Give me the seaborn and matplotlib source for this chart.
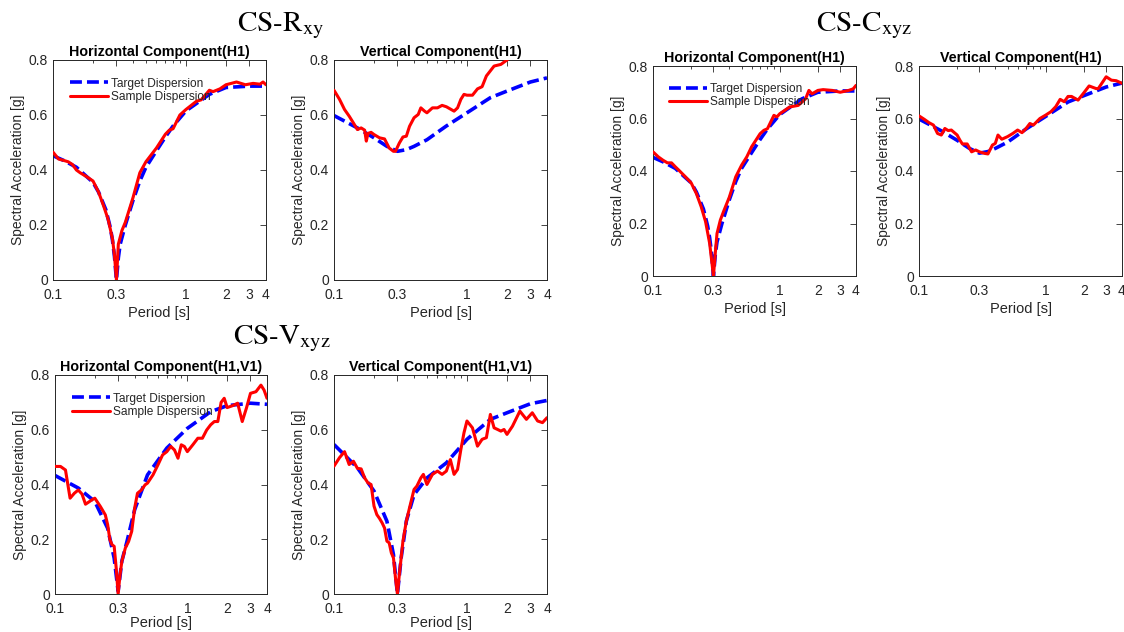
import numpy as np
import pandas as pd
import matplotlib
matplotlib.use("Agg")
import matplotlib.pyplot as plt
import seaborn as sns

# ---------------- data ----------------
# Targets (same target for horizontal H1 panels, and for vertical H1 panels)
t_target = [0.1, 0.12, 0.15, 0.18, 0.2, 0.22, 0.25, 0.27, 0.28, 0.29, 0.3, 0.31, 0.32, 0.35, 0.4,
            0.45, 0.5, 0.6, 0.7, 0.8, 1.0, 1.5, 2.0, 3.0, 4.0]
h_target = [0.452, 0.435, 0.41, 0.375, 0.355, 0.32, 0.255, 0.19, 0.145, 0.085, 0.0, 0.08, 0.13, 0.20, 0.29,
            0.36, 0.41, 0.47, 0.52, 0.56, 0.615, 0.675, 0.70, 0.705, 0.705]

t_vtarget = [0.1, 0.15, 0.2, 0.25, 0.3, 0.35, 0.4, 0.5, 0.7, 1.0, 1.5, 2.0, 3.0, 4.0]
v_target = [0.598, 0.553, 0.517, 0.486, 0.468, 0.474, 0.486, 0.51, 0.56, 0.608, 0.663, 0.687, 0.72, 0.735]

# CS-Rxy horizontal sample
t_rh = [0.1, 0.11, 0.12, 0.13, 0.14, 0.15, 0.16, 0.18, 0.2, 0.22, 0.24, 0.26, 0.28, 0.29, 0.3,
        0.31, 0.33, 0.35, 0.4, 0.45, 0.5, 0.6, 0.7, 0.75, 0.8, 0.9, 1.0, 1.2, 1.3, 1.5, 1.6,
        1.8, 2.0, 2.4, 2.8, 3.2, 3.6, 3.8, 4.0]
rh_sample = [0.465, 0.44, 0.435, 0.43, 0.42, 0.40, 0.39, 0.375, 0.36, 0.32, 0.27, 0.22, 0.15, 0.09, 0.0,
             0.13, 0.18, 0.21, 0.30, 0.39, 0.43, 0.48, 0.53, 0.545, 0.55, 0.60, 0.62, 0.65, 0.655, 0.69, 0.685,
             0.695, 0.71, 0.72, 0.71, 0.715, 0.712, 0.72, 0.71]

# CS-Rxy vertical sample
t_rv = [0.1, 0.11, 0.12, 0.13, 0.14, 0.15, 0.16, 0.17, 0.175, 0.18, 0.19, 0.2, 0.22, 0.24, 0.26,
        0.28, 0.29, 0.31, 0.33, 0.35, 0.37, 0.4, 0.43, 0.45, 0.48, 0.5, 0.55, 0.6, 0.65, 0.7,
        0.8, 0.85, 0.9, 0.95, 1.0, 1.1, 1.2, 1.3, 1.4, 1.6, 1.8, 2.0, 2.2, 2.5, 3.0, 4.0]
rv_sample = [0.69, 0.657, 0.62, 0.596, 0.571, 0.547, 0.553, 0.545, 0.505, 0.533, 0.537, 0.529, 0.517, 0.513, 0.48,
             0.468, 0.468, 0.498, 0.52, 0.523, 0.559, 0.59, 0.602, 0.626, 0.614, 0.608, 0.626, 0.626, 0.635, 0.63,
             0.614, 0.626, 0.657, 0.675, 0.672, 0.672, 0.695, 0.703, 0.742, 0.778, 0.784, 0.80, 0.82, 0.83, 0.85, 0.87]

# CS-Cxyz horizontal sample
t_ch = [0.1, 0.11, 0.12, 0.13, 0.14, 0.15, 0.16, 0.18, 0.2, 0.22, 0.24, 0.26, 0.28, 0.3, 0.31,
        0.32, 0.34, 0.36, 0.4, 0.45, 0.5, 0.55, 0.6, 0.7, 0.75, 0.8, 0.9, 0.95, 1.0, 1.2, 1.4,
        1.6, 1.7, 1.8, 2.0, 2.2, 2.6, 3.0, 3.5, 3.8, 4.0]
ch_sample = [0.473, 0.454, 0.441, 0.431, 0.431, 0.416, 0.403, 0.378, 0.355, 0.314, 0.264, 0.207, 0.124, 0.0, 0.086,
             0.162, 0.213, 0.245, 0.30, 0.378, 0.422, 0.454, 0.492, 0.542, 0.555, 0.561, 0.612, 0.606, 0.618, 0.644, 0.65,
             0.675, 0.707, 0.694, 0.707, 0.71, 0.707, 0.70, 0.707, 0.713, 0.726]

# CS-Cxyz vertical sample
t_cv = [0.1, 0.11, 0.12, 0.13, 0.14, 0.15, 0.16, 0.17, 0.18, 0.2, 0.21, 0.22, 0.24, 0.26, 0.28,
        0.3, 0.33, 0.35, 0.38, 0.4, 0.42, 0.45, 0.5, 0.55, 0.6, 0.65, 0.7, 0.75, 0.8, 0.9, 1.0,
        1.1, 1.2, 1.3, 1.4, 1.5, 1.6, 1.8, 2.0, 2.2, 2.5, 2.6, 3.0, 3.3, 3.6, 4.0]
cv_sample = [0.61, 0.597, 0.584, 0.575, 0.543, 0.537, 0.562, 0.554, 0.556, 0.537, 0.518, 0.503, 0.503, 0.473, 0.48,
             0.473, 0.467, 0.465, 0.499, 0.505, 0.537, 0.521, 0.531, 0.543, 0.556, 0.546, 0.562, 0.581, 0.575, 0.60, 0.613,
             0.626, 0.645, 0.673, 0.664, 0.684, 0.684, 0.67, 0.698, 0.724, 0.714, 0.714, 0.759, 0.746, 0.744, 0.734]

# CS-Vxyz horizontal target and sample
t_vh_target = [0.1, 0.15, 0.2, 0.25, 0.28, 0.3, 0.32, 0.35, 0.4, 0.5, 0.7, 1.0, 1.5, 2.0, 3.0, 4.0]
vh_target = [0.433, 0.387, 0.338, 0.24, 0.131, 0.01, 0.12, 0.192, 0.308, 0.435, 0.533, 0.605, 0.666, 0.688, 0.697, 0.693]

t_vh = [0.1, 0.11, 0.12, 0.13, 0.14, 0.15, 0.16, 0.17, 0.18, 0.19, 0.2, 0.22, 0.24, 0.25, 0.26,
        0.27, 0.28, 0.29, 0.3, 0.31, 0.32, 0.34, 0.36, 0.38, 0.4, 0.42, 0.45, 0.48, 0.5, 0.55,
        0.6, 0.65, 0.7, 0.75, 0.8, 0.85, 0.9, 0.95, 1.0, 1.1, 1.2, 1.3, 1.4, 1.5, 1.6, 1.7,
        1.8, 1.9, 2.0, 2.2, 2.4, 2.6, 2.8, 3.0, 3.3, 3.6, 3.8, 4.0]
vh_sample = [0.466, 0.466, 0.453, 0.35, 0.368, 0.38, 0.365, 0.328, 0.336, 0.344, 0.35, 0.32, 0.289, 0.253, 0.198,
             0.18, 0.174, 0.095, 0.0, 0.07, 0.119, 0.168, 0.192, 0.229, 0.314, 0.368, 0.38, 0.399, 0.405, 0.435,
             0.472, 0.508, 0.52, 0.539, 0.526, 0.496, 0.545, 0.539, 0.52, 0.545, 0.569, 0.569, 0.599, 0.618, 0.63, 0.63,
             0.70, 0.715, 0.681, 0.688, 0.697, 0.63, 0.68, 0.733, 0.739, 0.763, 0.745, 0.715]

# CS-Vxyz vertical target and sample
t_vv_target = [0.1, 0.15, 0.2, 0.25, 0.28, 0.3, 0.32, 0.35, 0.4, 0.5, 0.7, 1.0, 1.5, 2.0, 3.0, 4.0]
vv_target = [0.546, 0.461, 0.376, 0.266, 0.144, 0.0, 0.132, 0.266, 0.363, 0.424, 0.479, 0.565, 0.638, 0.662, 0.695, 0.707]

t_vv = [0.1, 0.11, 0.12, 0.13, 0.14, 0.15, 0.16, 0.17, 0.18, 0.19, 0.2, 0.21, 0.22, 0.23, 0.24,
        0.25, 0.26, 0.27, 0.28, 0.29, 0.3, 0.31, 0.32, 0.33, 0.35, 0.37, 0.4, 0.42, 0.45, 0.47,
        0.5, 0.55, 0.6, 0.65, 0.7, 0.75, 0.8, 0.85, 0.9, 0.95, 1.0, 1.1, 1.2, 1.3, 1.4, 1.5,
        1.6, 1.7, 1.8, 1.9, 2.0, 2.2, 2.5, 2.8, 3.1, 3.4, 3.7, 4.0]
vv_sample = [0.467, 0.498, 0.52, 0.473, 0.485, 0.459, 0.457, 0.424, 0.406, 0.40, 0.321, 0.29, 0.276, 0.26, 0.241,
             0.193, 0.187, 0.15, 0.132, 0.059, 0.0, 0.071, 0.132, 0.193, 0.266, 0.315, 0.382, 0.394, 0.424, 0.437,
             0.40, 0.437, 0.449, 0.437, 0.449, 0.491, 0.437, 0.455, 0.528, 0.589, 0.632, 0.607, 0.54, 0.565, 0.571, 0.656,
             0.607, 0.601, 0.595, 0.601, 0.583, 0.613, 0.668, 0.638, 0.662, 0.632, 0.626, 0.644]

x_ticks = [0.1, 0.3, 1, 2, 3, 4]
x_tick_labels = ["0.1", "0.3", "1", "2", "3", "4"]
y_ticks = [0, 0.2, 0.4, 0.6, 0.8]
y_tick_labels = ["0", "0.2", "0.4", "0.6", "0.8"]

# ---------------- style ----------------
sns.set_theme(style="white")
plt.rcParams["font.family"] = ["Liberation Sans", "DejaVu Sans"]
plt.rcParams["mathtext.fontset"] = "stix"
gray = "#262626"

fig = plt.figure(figsize=(11.24, 6.32), dpi=100)

panels = [
    ([53, 60, 213, 220], "Horizontal Component(H1)", t_target, h_target, t_rh, rh_sample, True, 3),
    ([334, 60, 213, 220], "Vertical Component(H1)", t_vtarget, v_target, t_rv, rv_sample, False, 3),
    ([653, 66, 203, 210], "Horizontal Component(H1)", t_target, h_target, t_ch, ch_sample, True, 3),
    ([919, 66, 203, 210], "Vertical Component(H1)", t_vtarget, v_target, t_cv, cv_sample, False, 3),
    ([55, 375, 212, 219], "Horizontal Component(H1,V1)", t_vh_target, vh_target, t_vh, vh_sample, True, 0.5),
    ([334, 375, 213, 219], "Vertical Component(H1,V1)", t_vv_target, vv_target, t_vv, vv_sample, False, 0.5),
]

W, H = 1124, 632
for rect, title, tt, tv, st, sv, leg, xlp in panels:
    x0, y0, w, h = rect
    ax = fig.add_axes([x0 / W, 1 - (y0 + h) / H, w / W, h / H])
    df_t = pd.DataFrame({"Period": tt, "Sa": tv})
    df_s = pd.DataFrame({"Period": st, "Sa": sv})
    sns.lineplot(data=df_t, x="Period", y="Sa", ax=ax, color=(0, 0, 1), lw=2.6,
                 label="Target Dispersion", zorder=2, sort=False)
    ax.lines[-1].set_dashes([3.3, 1.4])
    sns.lineplot(data=df_s, x="Period", y="Sa", ax=ax, color=(1, 0, 0), lw=2.2,
                 label="Sample Dispersion", zorder=3, sort=False)
    ax.set_xscale("log")
    ax.set_xlim(0.1, 4)
    ax.set_ylim(0, 0.8)
    ax.set_xticks(x_ticks)
    ax.set_xticklabels(x_tick_labels)
    ax.set_yticks(y_ticks)
    ax.set_yticklabels(y_tick_labels)
    ax.xaxis.set_minor_locator(matplotlib.ticker.LogLocator(base=10, subs=np.arange(2, 10) * 1.0, numticks=20))
    ax.xaxis.set_minor_formatter(matplotlib.ticker.NullFormatter())
    ax.tick_params(axis="both", which="both", direction="in", top=True, right=True,
                   colors=gray, labelsize=10, width=0.6)
    ax.tick_params(axis="x", which="major", length=4, pad=5.5)
    ax.tick_params(axis="y", which="major", length=4, pad=3.5)
    ax.tick_params(axis="x", which="minor", length=2.2)
    for sp in ax.spines.values():
        sp.set_color(gray)
        sp.set_linewidth(0.7)
    ax.set_xlabel("Period [s]", fontsize=10.5, color=gray, labelpad=xlp)
    ax.set_ylabel("Spectral Acceleration [g]", fontsize=10, color=gray, labelpad=3)
    ax.set_title(title, fontsize=10.3, fontweight="bold", color="black", pad=3)
    if leg:
        ax.legend(loc="upper left", frameon=False, fontsize=8.6, handlelength=3.2,
                  handletextpad=0.25, borderaxespad=0.0, labelspacing=0.1,
                  borderpad=0.0, bbox_to_anchor=(0.08, 0.92))
    else:
        lg = ax.get_legend()
        if lg is not None:
            lg.remove()
    ax.set_facecolor("white")

# Big group titles
fig.text(281 / W, 1 - 26 / H, r"CS-R$_{\mathrm{xy}}$", fontsize=21, family="STIXGeneral",
         ha="center", va="center", color="black")
fig.text(864 / W, 1 - 26 / H, r"CS-C$_{\mathrm{xyz}}$", fontsize=21, family="STIXGeneral",
         ha="center", va="center", color="black")
fig.text(282 / W, 1 - 339 / H, r"CS-V$_{\mathrm{xyz}}$", fontsize=21, family="STIXGeneral",
         ha="center", va="center", color="black")

fig.savefig("out.png", dpi=100, facecolor="white")
